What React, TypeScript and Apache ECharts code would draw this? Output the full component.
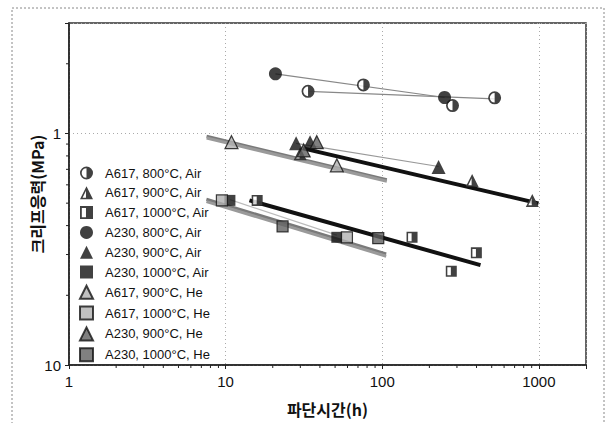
import React, { useEffect, useRef } from "react";
import * as echarts from "echarts";

// ---------- data ----------
const legendNames = [
  "A617, 800°C, Air",
  "A617, 900°C, Air",
  "A617, 1000°C, Air",
  "A230, 800°C, Air",
  "A230, 900°C, Air",
  "A230, 1000°C, Air",
  "A617, 900°C, He",
  "A617, 1000°C, He",
  "A230, 900°C, He",
  "A230, 1000°C, He",
];

// [rupture time (h), creep stress (MPa)]
const a617_800_air = [[33.6, 152], [75.8, 162], [281, 132], [522, 142.6]];
const a617_900_air = [[29.9, 81.8], [375, 62.7], [908, 51.4]];
const a617_1000_air = [[15.9, 51.4], [155, 35.6], [276, 25.4], [399, 30.5]];
const a230_800_air = [[20.8, 181], [250, 143]];
const a230_900_air = [[28.2, 90.8], [34.6, 91.7], [229, 71.6]];
const a230_1000_air = [[10.65, 51.4], [51.3, 35.6]];
const a617_900_he = [[10.9, 91.7], [51.3, 72.8]];
const a617_1000_he = [[9.47, 51.4], [59.5, 35.6]];
const a230_900_he = [[38.2, 91.7], [31.5, 84.5]];
const a230_1000_he = [[23.1, 39.7], [94.3, 35.3]];

// fitted lines (end points)
const fit_a617_800_air = [[33.6, 152], [522, 141]];
const fit_a230_800_air = [[20.8, 181], [250, 143]];
const fit_a617_900_air = [[31.2, 86.2], [995, 49.9]];
const fit_a230_900_air = [[28.2, 90.6], [229, 72]];
const fit_a617_900_he = [[7.56, 97.2], [107, 63.2]];
const fit_a230_900_he = [[7.56, 95.6], [107, 62.2]];
const fit_a617_1000_air = [[14.2, 51.4], [424, 27.0]];
const fit_a230_1000_air = [[10.65, 51.8], [51.3, 36.4]];
const fit_a617_1000_he = [[7.54, 52.0], [106, 30.2]];
const fit_a230_1000_he = [[7.54, 50.8], [106, 29.5]];

// axis tick values
const xMinorTicks = [2, 3, 4, 5, 6, 7, 8, 9, 20, 30, 40, 50, 60, 70, 80, 90, 200, 300, 400, 500, 600, 700, 800, 900];
const yMinorTicks = [20, 30, 40, 50, 60, 70, 80, 90, 200];

// ---------- symbols ----------
const halfCircle =
  "path://M50,0 A50,50 0 1,1 50,100 A50,50 0 1,1 50,0 Z M50,13 A37,37 0 0,0 50,87 Z";
const halfTriangle = "path://M50,0 L100,100 L0,100 Z M46,34 L20,88 L46,88 Z";
const halfSquare = "path://M0,0 L100,0 L100,100 L0,100 Z M14,14 L14,86 L46,86 L46,14 Z";

const LATIN = "'Liberation Sans', Arial, sans-serif";
const KR = "'Noto Sans CJK KR', sans-serif";

export default function App() {
  const ref = useRef<HTMLDivElement>(null);

  useEffect(() => {
    if (!ref.current) return;
    const chart = echarts.init(ref.current, undefined, { renderer: "svg" });

    const fitLine = (data: number[][], color: string, width: number) => ({
      type: "line",
      data,
      showSymbol: false,
      symbol: "none",
      silent: true,
      lineStyle: { color, width },
      z: 2,
    });

    const backing = (data: number[][], symbol: string, size: number) => ({
      type: "scatter",
      data,
      symbol,
      symbolSize: size,
      silent: true,
      itemStyle: { color: "#fff" },
      z: 3,
    });

    const marker = (
      name: string,
      data: number[][],
      symbol: string,
      size: number,
      color: string,
      border = 0
    ) => ({
      type: "scatter",
      name,
      data,
      symbol,
      symbolSize: size,
      itemStyle: { color, borderColor: "#111", borderWidth: border },
      z: 4,
    });

    const tickSeries = (data: number[][], dir: "x" | "y") => ({
      type: "custom",
      data,
      silent: true,
      clip: false,
      z: 5,
      renderItem: (_p: any, api: any) => {
        const pt = api.coord([api.value(0), api.value(1)]);
        return {
          type: "line",
          shape:
            dir === "x"
              ? { x1: pt[0], y1: pt[1], x2: pt[0], y2: pt[1] + 3 }
              : { x1: pt[0], y1: pt[1], x2: pt[0] - 3, y2: pt[1] },
          style: { stroke: "#222", lineWidth: 1 },
        };
      },
    });

    chart.setOption({
      animation: false,
      backgroundColor: "#fff",
      grid: {
        left: 69,
        right: 25,
        top: 23,
        bottom: 58,
        show: true,
        borderColor: "#333",
        borderWidth: 1.5,
        backgroundColor: "transparent",
      },
      legend: {
        orient: "vertical",
        left: 74,
        top: 161,
        itemWidth: 13,
        itemHeight: 13,
        itemGap: 5.8,
        selectedMode: false,
        data: legendNames,
        textStyle: {
          fontSize: 13,
          lineHeight: 14,
          fontFamily: LATIN,
          color: "#111",
          padding: [0, 0, 0, 7],
        },
      },
      graphic: [
        {
          type: "rect",
          shape: { x: 12, y: 8, width: 592, height: 430 },
          style: { fill: "none", stroke: "#888", lineWidth: 1, lineDash: [2, 2] },
          silent: true,
          z: -1,
        },
      ],
      xAxis: {
        type: "log",
        logBase: 10,
        min: 1,
        max: 2000,
        name: "파단시간(h)",
        nameLocation: "middle",
        nameGap: 36,
        nameMoveOverlap: false,
        nameTextStyle: { fontFamily: KR, fontSize: 16, fontWeight: "bold", color: "#111" },
        axisLine: { show: true, lineStyle: { color: "#222", width: 1.5 } },
        axisTick: { show: true, inside: false, length: 4, lineStyle: { color: "#222" } },
        axisLabel: {
          fontFamily: LATIN,
          fontSize: 15,
          color: "#111",
          margin: 9,
          formatter: (v: number) => (v > 1500 ? "" : String(Math.round(v))),
        },
        splitLine: { show: true, lineStyle: { color: "#aaa", type: [1, 3], width: 1 } },
      },
      yAxis: {
        type: "log",
        logBase: 10,
        min: 10,
        max: 300,
        name: "크리프응력(MPa)",
        nameLocation: "middle",
        nameGap: 24,
        nameMoveOverlap: false,
        nameTextStyle: { fontFamily: KR, fontSize: 16, fontWeight: "bold", color: "#111" },
        axisLine: { show: true, lineStyle: { color: "#222", width: 1.5 } },
        axisTick: { show: true, inside: false, length: 4, lineStyle: { color: "#222" } },
        axisLabel: {
          fontFamily: LATIN,
          fontSize: 15,
          color: "#111",
          margin: 8,
          formatter: (v: number) => (Math.abs(v - 10) < 0.01 ? "10" : Math.abs(v - 100) < 0.1 ? "1" : ""),
        },
        splitLine: { show: true, lineStyle: { color: "#aaa", type: [1, 3], width: 1 } },
      },
      series: [
        // fitted lines
        fitLine(fit_a617_900_he, "#7a7a7a", 3),
        fitLine(fit_a230_900_he, "#9a9a9a", 3),
        fitLine(fit_a617_1000_he, "#7a7a7a", 3),
        fitLine(fit_a230_1000_he, "#9a9a9a", 3),
        fitLine(fit_a617_800_air, "#888", 1.2),
        fitLine(fit_a230_800_air, "#888", 1.2),
        fitLine(fit_a230_900_air, "#999", 1.2),
        fitLine(fit_a230_1000_air, "#bbb", 1.2),
        fitLine(fit_a617_900_air, "#111", 4),
        fitLine(fit_a617_1000_air, "#111", 4),
        // white backings for half-filled markers
        backing(a617_800_air, "circle", 12),
        backing(a617_900_air, "triangle", 12),
        backing(a617_1000_air, "rect", 10),
        // markers
        marker(legendNames[0], a617_800_air, halfCircle, 13, "#111"),
        marker(legendNames[1], a617_900_air, halfTriangle, 13, "#111"),
        marker(legendNames[2], a617_1000_air, halfSquare, 11, "#111"),
        marker(legendNames[3], a230_800_air, "circle", 13, "#111"),
        marker(legendNames[4], a230_900_air, "triangle", 14, "#111"),
        marker(legendNames[5], a230_1000_air, "rect", 11, "#111"),
        marker(legendNames[6], a617_900_he, "triangle", 13, "#b0b0b0", 1.2),
        marker(legendNames[7], a617_1000_he, "rect", 11, "#b0b0b0", 1.2),
        marker(legendNames[8], a230_900_he, "triangle", 13, "#606060", 1.2),
        marker(legendNames[9], a230_1000_he, "rect", 11, "#606060", 1.2),
        // minor ticks
        tickSeries(xMinorTicks.map((v) => [v, 10]), "x"),
        tickSeries(yMinorTicks.map((v) => [1, v]), "y"),
      ],
    });

    return () => chart.dispose();
  }, []);

  return (
    <div
      ref={ref}
      style={{ position: "fixed", left: 0, top: 0, width: 611, height: 423, background: "#fff" }}
    />
  );
}
